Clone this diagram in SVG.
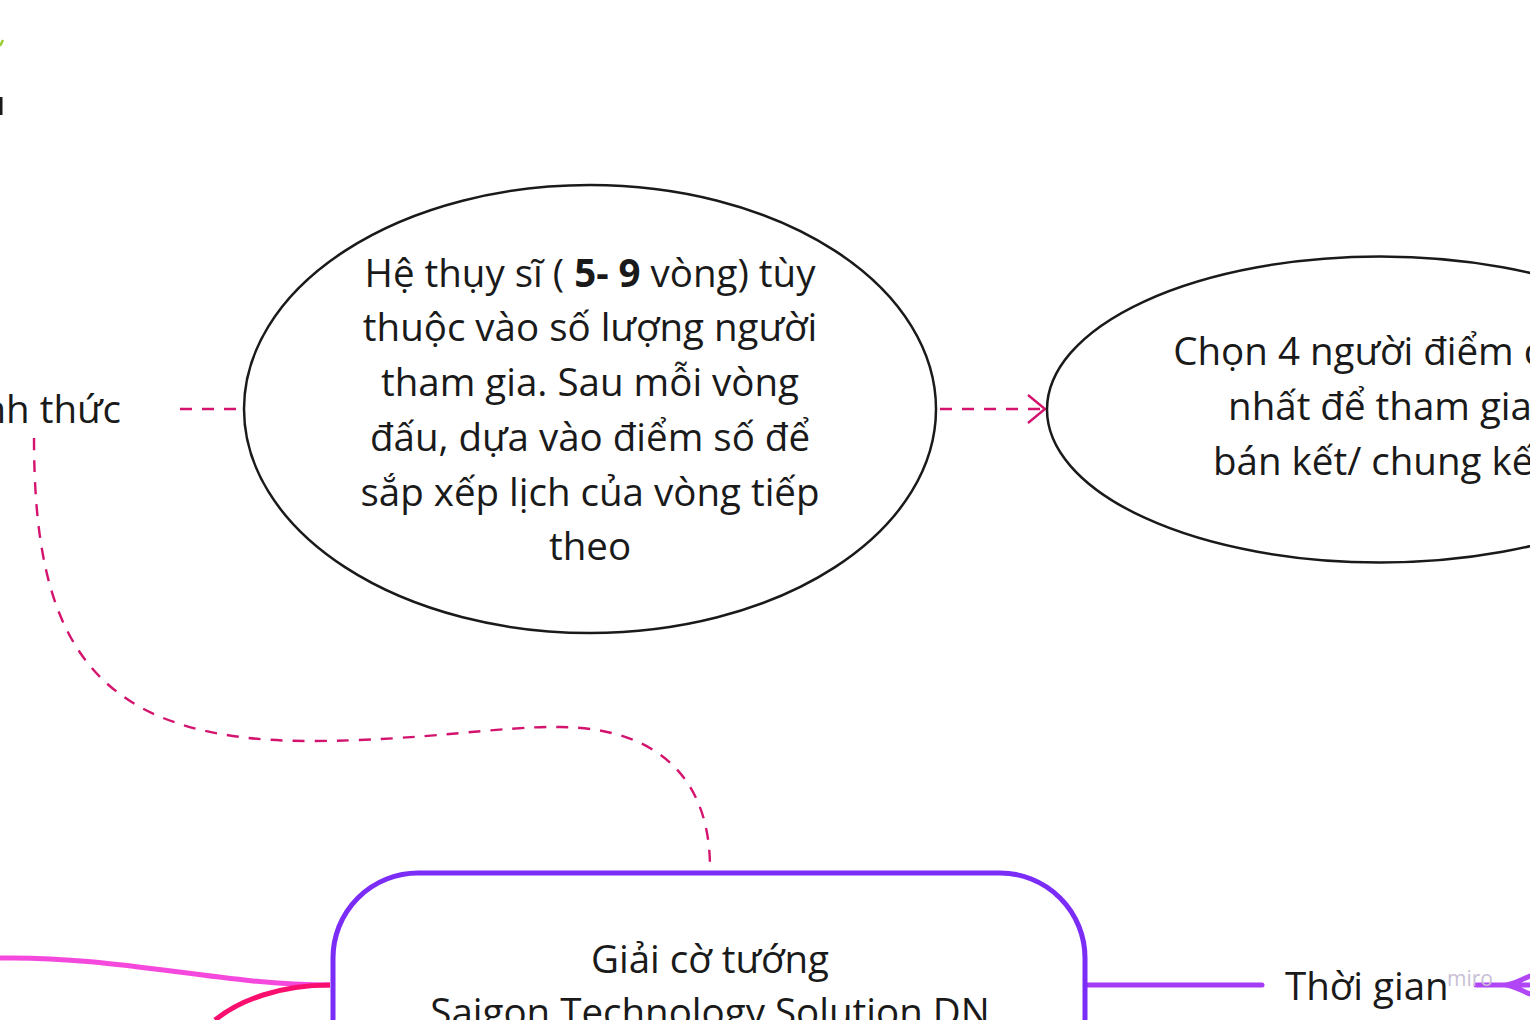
<svg xmlns="http://www.w3.org/2000/svg" width="1530" height="1020" viewBox="0 0 1530 1020">
<defs>
<style>
.t{font-family:"Open Sans","Noto Sans","Liberation Sans",sans-serif;font-size:38.5px;fill:#1a1a1a}
.ell{fill:#fff;stroke:#1a1a1a;stroke-width:2.5}
.dash{fill:none;stroke:#d4136e;stroke-width:2.4;stroke-dasharray:12 10}
</style>
<marker id="chev" markerWidth="22" markerHeight="32" refX="19" refY="16" orient="auto" markerUnits="userSpaceOnUse">
<path d="M2,2 L19,16 L2,30" fill="none" stroke="#d4136e" stroke-width="2.4"/>
</marker>
</defs>
<rect width="1530" height="1020" fill="#fff"/>
<g id="edge-marks">
<path d="M0,46 L3,40" stroke="#9acd32" stroke-width="2.5" fill="none"/>
<rect x="0" y="97" width="2.5" height="18" fill="#1a1a1a"/>
</g>
<g id="connectors">
<line class="dash" x1="180" y1="409" x2="243" y2="409"/>
<line class="dash" x1="940" y1="409" x2="1045" y2="409" marker-end="url(#chev)"/>
<path class="dash" d="M34,438 C34,640 90,741 310,741 C420,741 500,726 560,727 C660,728 710,780 710,868"/>
<path d="M0,958 C120,956 220,985 330,985" fill="none" stroke="#f548dc" stroke-width="5"/>
<path d="M330,985 C280,985 240,1000 215,1020" fill="none" stroke="#fa0f6e" stroke-width="5"/>
<line x1="1087" y1="985" x2="1262" y2="985" stroke="#a53cf5" stroke-width="5" stroke-linecap="round"/>
<path d="M1476,985 L1530,985 M1504,985 C1512,985 1520,980 1530,976 M1504,985 C1512,985 1520,990 1530,994" fill="none" stroke="#b046f5" stroke-width="5" stroke-linecap="round"/>
</g>
<g id="node-hinh-thuc">
<text class="t" x="121" y="423" text-anchor="end">Hình thức</text>
</g>
<g id="node-he-thuy-si">
<ellipse class="ell" cx="590" cy="409" rx="346" ry="224"/>
<text class="t" text-anchor="middle"><tspan x="590" y="287">Hệ thụy sĩ ( <tspan font-weight="bold">5- 9</tspan> vòng) tùy</tspan><tspan x="590" y="341">thuộc vào số lượng người</tspan><tspan x="590" y="396">tham gia. Sau mỗi vòng</tspan><tspan x="590" y="451">đấu, dựa vào điểm số để</tspan><tspan x="590" y="506">sắp xếp lịch của vòng tiếp</tspan><tspan x="590" y="560">theo</tspan></text>
</g>
<g id="node-chon-4">
<ellipse class="ell" cx="1380" cy="409.5" rx="333" ry="153"/>
<text class="t" text-anchor="middle"><tspan x="1380" y="365">Chọn 4 người điểm cao</tspan><tspan x="1380" y="420">nhất để tham gia</tspan><tspan x="1380" y="475">bán kết/ chung kết</tspan></text>
</g>
<g id="node-root">
<rect x="333" y="873" width="752" height="260" rx="85" ry="85" fill="#fff" stroke="#7b2cf7" stroke-width="5"/>
<text class="t" text-anchor="middle"><tspan x="710" y="973">Giải cờ tướng</tspan><tspan x="710" y="1026">Saigon Technology Solution DN</tspan></text>
</g>
<g id="node-thoi-gian">
<text class="t" x="1285" y="1000">Thời gian</text>
</g>
<text x="1447" y="986" font-family="'Open Sans',sans-serif" font-size="21" fill="#c9bfd6">miro</text>
</svg>
